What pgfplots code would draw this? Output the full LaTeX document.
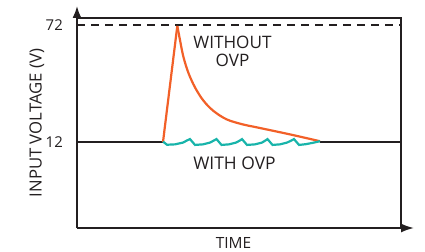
\documentclass[border=0pt]{standalone}
\usepackage{fontspec}
\setmainfont{Open Sans}
\usepackage{pgfplots}
\pgfplotsset{compat=1.18}
\usetikzlibrary{arrows.meta}
\definecolor{ovporange}{RGB}{242,96,40}
\definecolor{ovpteal}{RGB}{24,180,170}
\definecolor{txt}{RGB}{35,31,32}
\begin{document}
\begin{tikzpicture}
\path[use as bounding box] (0,0) rectangle (425bp,252bp);
\begin{axis}[
  at={(77bp,24bp)}, anchor=south west,
  scale only axis, width=324bp, height=210bp,
  xmin=77, xmax=401, ymin=-32.1, ymax=75.6,
  clip=false,
  axis line style={draw=none},
  major tick length=0pt,
  xtick=\empty,
  ytick={12,72}, yticklabels={12,72},
  yticklabel style={font=\fontsize{15}{18}\selectfont, text=txt, inner sep=0pt, anchor=east, xshift=-14bp},
]
% frame
\draw[txt, line width=1.8bp] (rel axis cs:0,1) -- (rel axis cs:1,1) -- (rel axis cs:1,0);
\draw[txt, line width=1.8bp, -{Latex[length=12bp,width=9bp]}] (rel axis cs:0,0) -- ([yshift=12bp]rel axis cs:0,1);
\draw[txt, line width=1.8bp, -{Latex[length=13bp,width=9bp]}] (rel axis cs:0,0) -- ([xshift=13bp]rel axis cs:1,0);
% 72 dashed reference
\addplot[txt, line width=1.4bp, dash pattern=on 8bp off 6bp] coordinates {(77,72) (401,72)};
% 12 V baseline
\addplot[txt, line width=1.8bp] coordinates {(77,12) (163,12)};
\addplot[txt, line width=1.8bp] coordinates {(320,12) (401,12)};
% without OVP
\addplot[ovporange, line width=2.2bp] coordinates {(163,12) (177.3,71.5)};
\addplot[ovporange, line width=2.2bp, smooth, tension=0.55] coordinates {
  (177.3,71.5) (180,64.3) (183.3,55.9) (188.3,47.6) (195,40.0) (203.3,33.3)
  (213.3,28.0) (226.7,23.6) (243,21.0) (256,19.6) (290,15.9) (320,12.4)};
% with OVP
\addplot[ovpteal, line width=2.2bp] coordinates {
  (163,12.2) (167,10.6) (175,10.8) (183,11.7) (187,12.8) (190,13.5)
  (195,10.5) (203,10.8) (210,11.7) (214,12.8) (216.5,13.5)
  (221.5,10.5) (229,10.8) (236,11.7) (240,12.8) (242,13.5)
  (247,10.5) (255,10.8) (262,11.7) (265.5,12.8) (267.5,13.5)
  (272.5,10.5) (280,10.8) (287,11.7) (291.5,12.8) (294,13.5)
  (299,10.5) (306,10.9) (313,11.6) (320,12.4)};
\node[txt, align=center, font=\fontsize{17.2}{18.8}\selectfont] at (axis cs:232.5,58.5) {WITHOUT\\OVP};
\node[txt, font=\fontsize{17.5}{20}\selectfont] at (axis cs:234.5,1.0) {WITH OVP};
\end{axis}
\node[txt, font=\fontsize{15.5}{18}\selectfont] at (233.5bp,9bp) {TIME};
\node[txt, rotate=90, font=\fontsize{16.8}{20}\selectfont] at (37bp,129bp) {INPUT VOLTAGE (V)};
\end{tikzpicture}
\end{document}
